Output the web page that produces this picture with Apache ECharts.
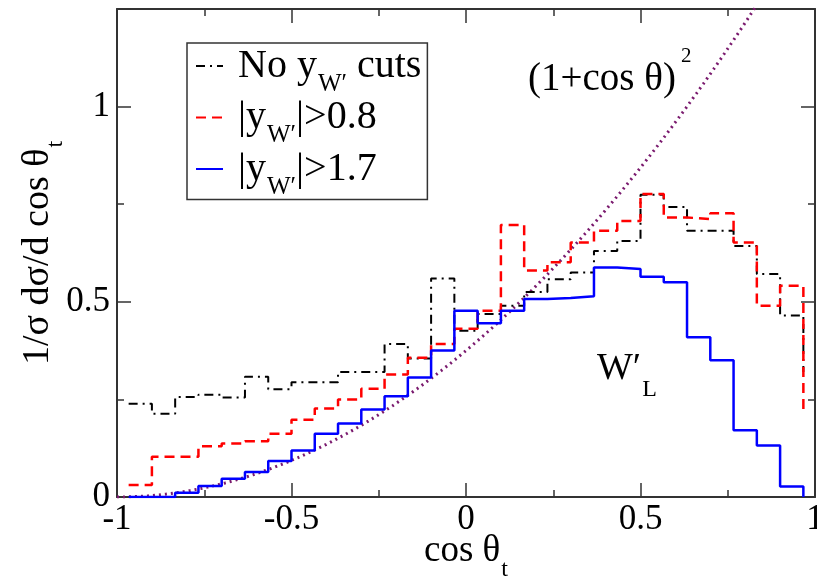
<!DOCTYPE html>
<html>
<head>
<meta charset="utf-8">
<script src="https://cdn.jsdelivr.net/npm/echarts@6/dist/echarts.min.js"></script>
<style>
  html, body { margin: 0; padding: 0; background: #fff; }
  #chart { width: 817px; height: 580px; }
</style>
</head>
<body>
<div id="chart"></div>
<script>
// Top-quark polar-angle distribution in W' decays, normalised 1/σ dσ/d cos θt.
// 29 bins of width 1/15 spanning cos θt from -29/30 to 29/30; each array holds the
// 29 bin heights followed by the level the step line drops to at the right edge.
const BIN_START = -29 / 30;
const BIN_WIDTH = 1 / 15;

const noCut = [0.239, 0.213, 0.256, 0.262, 0.255, 0.308, 0.276, 0.294, 0.294, 0.320,
               0.320, 0.392, 0.355, 0.560, 0.426, 0.469, 0.490, 0.525, 0.558, 0.575,
               0.630, 0.656, 0.774, 0.743, 0.682, 0.682, 0.643, 0.571, 0.465, 0.320];
const cut08 = [0.031, 0.103, 0.103, 0.130, 0.137, 0.143, 0.162, 0.198, 0.227, 0.250,
               0.277, 0.314, 0.357, 0.392, 0.431, 0.477, 0.697, 0.580, 0.601, 0.652,
               0.682, 0.707, 0.776, 0.716, 0.712, 0.727, 0.652, 0.490, 0.541, 0.213];
const cut17 = [0.000, 0.000, 0.011, 0.028, 0.047, 0.064, 0.092, 0.119, 0.162, 0.188,
               0.224, 0.258, 0.306, 0.375, 0.477, 0.445, 0.477, 0.507, 0.510, 0.514,
               0.588, 0.584, 0.564, 0.550, 0.409, 0.350, 0.171, 0.132, 0.027, 0.000];

const seriesNames = ['No yW′ cuts', '|yW′|>0.8', '|yW′|>1.7'];
const xTickLabels = ['-1', '-0.5', '0', '0.5', '1'];
const yTickLabels = ['0', '0.5', '1'];

const binEdges = noCut.map((_, i) => BIN_START + i * BIN_WIDTH);

// (1+cos θ)^2 normalised to unit area on [-1, 1]: 3/8 (1+x)^2
const curve = [];
for (let i = 0; i <= 200; i++) {
  const x = -1 + i * 0.01;
  curve.push([x, 3 / 8 * (1 + x) * (1 + x)]);
}

const FONT = 'Liberation Serif';
const AXIS = '#333';

function stepSeries(name, values, color, dash, width, z) {
  return {
    name: name,
    type: 'line',
    step: 'end',
    symbol: 'none',
    z: z,
    data: values.map((v, i) => [binEdges[i], v]),
    lineStyle: { color: color, width: width, type: dash },
    itemStyle: { color: color },
    emphasis: { disabled: true }
  };
}

function frameAxis(pos, min, max, showLabels, labels) {
  return {
    type: 'value',
    position: pos,
    min: min,
    max: max,
    interval: 0.5,
    axisLine: { show: true, onZero: false, lineStyle: { color: AXIS, width: 2 } },
    axisTick: { show: true, inside: true, length: 14, lineStyle: { color: AXIS, width: 1.5 } },
    minorTick: { show: true, splitNumber: 2, length: 7, lineStyle: { color: AXIS, width: 1.5 } },
    splitLine: { show: false },
    minorSplitLine: { show: false },
    axisLabel: {
      show: showLabels,
      showMaxLabel: pos === 'bottom' || pos === 'top',
      fontFamily: FONT,
      fontSize: 35,
      color: '#000',
      margin: 8,
      formatter: function (v) {
        const s = String(Math.round(v * 10) / 10);
        return labels && labels.indexOf(s) >= 0 ? s : '';
      }
    }
  };
}

// lowered (subscript) text runs
function lowered(size, dy) {
  return { fontFamily: FONT, fontSize: size, color: '#000', fill: '#000', padding: [dy, 0, -dy, 1] };
}

const chart = echarts.init(document.getElementById('chart'), null, { renderer: 'canvas' });

const xBottom = frameAxis('bottom', -1, 1, true, xTickLabels);
xBottom.name = 'cos θ{s|t}';
xBottom.nameLocation = 'middle';
xBottom.nameGap = 36;
xBottom.nameMoveOverlap = false;
xBottom.nameTextStyle = {
  fontFamily: FONT, fontSize: 37, color: '#000',
  rich: { s: lowered(24, 18) }
};
xBottom.axisLabel.margin = 5;

const yLeft = frameAxis('left', 0, 1.25, true, yTickLabels);
yLeft.name = '1/σ dσ/d cos θ{s|t}';
yLeft.nameLocation = 'middle';
yLeft.nameRotate = 90;
yLeft.nameGap = 60;
yLeft.nameMoveOverlap = false;
yLeft.nameTextStyle = {
  fontFamily: FONT, fontSize: 38, color: '#000',
  rich: { s: lowered(24, 18) }
};
yLeft.axisLabel.margin = 7;

chart.setOption({
  animation: false,
  backgroundColor: '#fff',
  grid: { left: 117, top: 9, width: 698, height: 488, outerBoundsMode: 'none', containLabel: false },
  xAxis: [xBottom, frameAxis('top', -1, 1, false, null)],
  yAxis: [yLeft, frameAxis('right', 0, 1.25, false, null)],
  legend: {
    data: seriesNames,
    orient: 'vertical',
    left: 187,
    top: 43,
    padding: [3, 6, 0, 8],
    itemGap: 1,
    itemWidth: 27,
    itemHeight: 14,
    borderColor: '#333',
    borderWidth: 1.5,
    borderRadius: 0,
    backgroundColor: '#fff',
    selectedMode: false,
    itemStyle: { opacity: 0 },
    textStyle: { fontFamily: FONT, fontSize: 40, color: '#000', rich: { s: lowered(25, 18) } },
    formatter: function (name) { return ' ' + name.replace('W′', '{s|W′}'); }
  },
  graphic: [
    {
      type: 'text', left: 528, top: 60, z: 10,
      style: { text: '(1+cos θ)', fontFamily: FONT, fontSize: 39, fill: '#000' }
    },
    {
      type: 'text', left: 681, top: 46, z: 10,
      style: { text: '2', fontFamily: FONT, fontSize: 21, fill: '#000' }
    },
    {
      type: 'text', left: 597, top: 350, z: 10,
      style: {
        text: 'W′{s|L}',
        fontFamily: FONT, fontSize: 38, fill: '#000',
        rich: { s: lowered(24, 21) }
      }
    }
  ],
  series: [
    {
      name: 'curve',
      type: 'line',
      symbol: 'none',
      z: 1,
      data: curve,
      lineStyle: { color: '#7a1a6e', width: 3, type: [2, 4] },
      emphasis: { disabled: true }
    },
    stepSeries(seriesNames[0], noCut, '#000', [9, 5, 2, 5], 2, 2),
    stepSeries(seriesNames[1], cut08, '#ff0000', [10, 6], 2.5, 3),
    stepSeries(seriesNames[2], cut17, '#0000ff', 'solid', 2.5, 4)
  ]
});
</script>
</body>
</html>
